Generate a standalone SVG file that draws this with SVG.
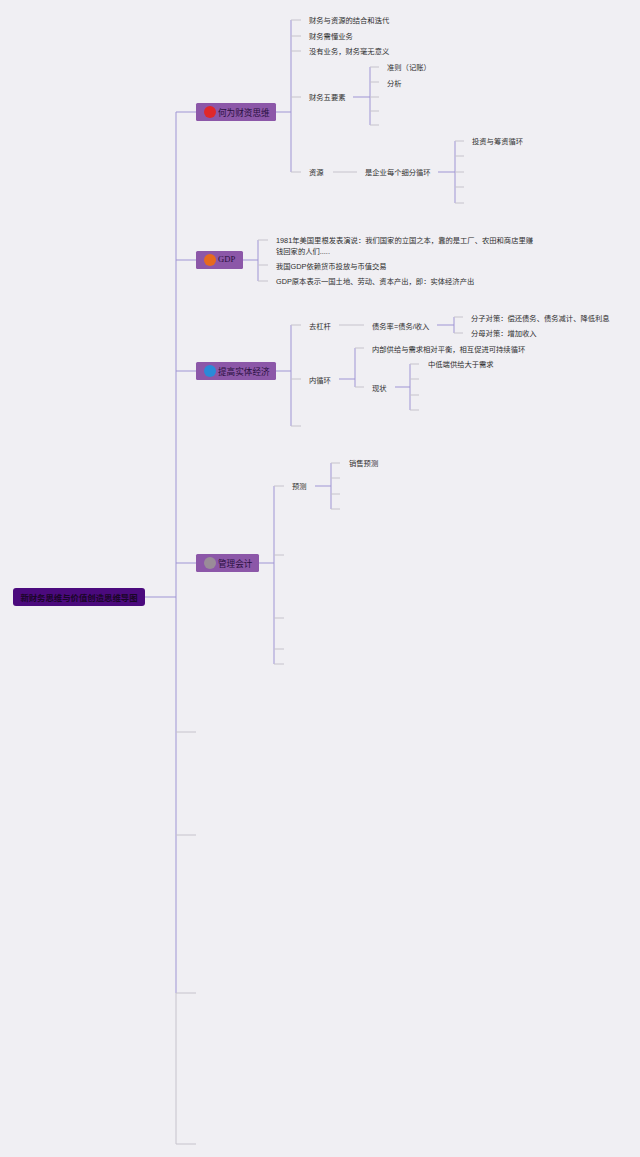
<svg xmlns="http://www.w3.org/2000/svg" width="640" height="1157" viewBox="0 0 640 1157">
<style>
.t{font-family:"Liberation Sans","Noto Sans CJK SC",sans-serif;font-size:7.3px;fill:#2e2e2e;dominant-baseline:central}
.nt{font-family:"Liberation Sans","Noto Sans CJK SC",sans-serif;font-size:8.6px;fill:#2a0f3f;dominant-baseline:central}
.c{stroke:#9f95d4;stroke-width:1;fill:none}
.s{stroke:#c6c3cc;stroke-width:1;fill:none}
.node{fill:#8c57a8}
</style>
<rect width="640" height="1157" fill="#f0eff3"/>
<g id="connectors">
<path class="c" d="M145 597H176M176 112V993"/>
<path class="s" d="M176 993V1144H196M176 732H196M176 835H196M176 993H196"/>
<path class="c" d="M176 112H196M176 260H196M176 371H196M176 563H196"/>
<path class="c" d="M276 112H291M291 20V172"/>
<path class="s" d="M291 20H301M291 36H301M291 51H301M291 97H301M291 172H301"/>
<path class="c" d="M353 97H370M370 67V125"/>
<path class="s" d="M370 67H379M370 82H379M370 97H379M370 111H379M370 125H379"/>
<path class="s" d="M333 172H357"/>
<path class="c" d="M438 172H455M455 141V203"/>
<path class="s" d="M455 141H464M455 156H464M455 172H464M455 187H464M455 203H464"/>
<path class="c" d="M243 260H258M258 240V281"/>
<path class="s" d="M258 240H268M258 265H268M258 281H268"/>
<path class="c" d="M276 371H291M291 325V426"/>
<path class="s" d="M291 325H301M291 379H301M291 426H301"/>
<path class="s" d="M339 325H364"/>
<path class="c" d="M437 325H454M454 317V333"/>
<path class="s" d="M454 317H463M454 333H463"/>
<path class="c" d="M339 379H355M355 348V387"/>
<path class="s" d="M355 348H364M355 387H364"/>
<path class="c" d="M395 387H410M410 364V410"/>
<path class="s" d="M410 364H419M410 379H419M410 395H419M410 410H419"/>
<path class="c" d="M259 563H274M274 486V664"/>
<path class="s" d="M274 486H284M274 555H284M274 618H284M274 649H284M274 664H284"/>
<path class="c" d="M315 486H331M331 463V509"/>
<path class="s" d="M331 463H340M331 478H340M331 494H340M331 509H340"/>
</g>
<g id="root">
<rect x="13" y="588" width="132" height="18" rx="3" fill="#4b0a7d"/>
<text class="nt" x="79" y="597.5" text-anchor="middle" style="font-weight:bold;fill:#1a0628;font-size:8.4px">新财务思维与价值创造思维导图</text>
</g>
<g id="n1">
<rect class="node" x="196" y="103" width="80" height="18" rx="1.5"/>
<circle cx="210" cy="112" r="6" fill="#e0282a"/>
<text class="nt" x="218" y="112.5">何为财资思维</text>
</g>
<g id="n1-1"><text class="t" x="309" y="20">财务与资源的结合和迭代</text></g>
<g id="n1-2"><text class="t" x="309" y="36">财务需懂业务</text></g>
<g id="n1-3"><text class="t" x="309" y="51">没有业务，财务毫无意义</text></g>
<g id="n1-4"><text class="t" x="309" y="97">财务五要素</text></g>
<g id="n1-4-1"><text class="t" x="387" y="67">准则（记账）</text></g>
<g id="n1-4-2"><text class="t" x="387" y="83">分析</text></g>
<g id="n1-5"><text class="t" x="309" y="172">资源</text></g>
<g id="n1-5-1"><text class="t" x="365" y="172">是企业每个细分循环</text></g>
<g id="n1-5-1-1"><text class="t" x="472" y="141">投资与筹资循环</text></g>
<g id="n2">
<rect class="node" x="196" y="251" width="47" height="18" rx="1.5"/>
<circle cx="210" cy="260" r="6" fill="#e66a1e"/>
<text class="nt" x="218" y="259" style="font-family:'Liberation Serif','Noto Sans CJK SC',serif">GDP</text>
</g>
<g id="n2-1"><text class="t" x="276" y="240">1981年美国里根发表演说：我们国家的立国之本，靠的是工厂、农田和商店里赚</text><text class="t" x="276" y="251">钱回家的人们.....</text></g>
<g id="n2-2"><text class="t" x="276" y="266">我国GDP依赖货币投放与币值交易</text></g>
<g id="n2-3"><text class="t" x="276" y="281">GDP原本表示一国土地、劳动、资本产出，即：实体经济产出</text></g>
<g id="n3">
<rect class="node" x="196" y="362" width="80" height="18" rx="1.5"/>
<circle cx="210" cy="371" r="6" fill="#2a8ad8"/>
<text class="nt" x="218" y="371.5">提高实体经济</text>
</g>
<g id="n3-1"><text class="t" x="309" y="326">去杠杆</text></g>
<g id="n3-1-1"><text class="t" x="372" y="326">债务率=债务/收入</text></g>
<g id="n3-1-1-1"><text class="t" x="471" y="318">分子对策：偿还债务、债务减计、降低利息</text></g>
<g id="n3-1-1-2"><text class="t" x="471" y="333">分母对策：增加收入</text></g>
<g id="n3-2"><text class="t" x="309" y="380">内循环</text></g>
<g id="n3-2-1"><text class="t" x="372" y="349">内部供给与需求相对平衡，相互促进可持续循环</text></g>
<g id="n3-2-2"><text class="t" x="372" y="388">现状</text></g>
<g id="n3-2-2-1"><text class="t" x="428" y="364">中低端供给大于需求</text></g>
<g id="n4">
<rect class="node" x="196" y="554" width="63" height="18" rx="1.5"/>
<circle cx="210" cy="563" r="6" fill="#9a8c98"/>
<text class="nt" x="218" y="563.5">管理会计</text>
</g>
<g id="n4-1"><text class="t" x="292" y="486">预测</text></g>
<g id="n4-1-1"><text class="t" x="349" y="463">销售预测</text></g>
</svg>
